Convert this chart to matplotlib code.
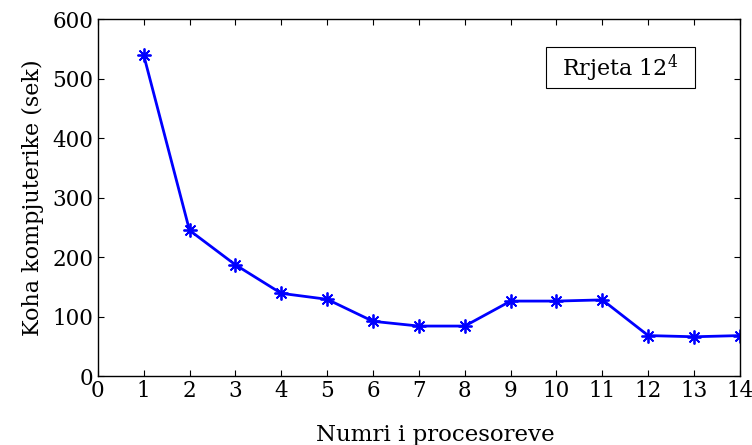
import matplotlib
matplotlib.use("Agg")
import matplotlib.pyplot as plt
from matplotlib.patches import Rectangle

# number of processors vs computing time (sec)
procs = [1, 2, 3, 4, 5, 6, 7, 8, 9, 10, 11, 12, 13, 14]
times = [540, 245, 187, 139, 129, 92, 84, 84, 126, 126, 128, 68, 66, 68]
xticks = list(range(0, 15))
yticks = [0, 100, 200, 300, 400, 500, 600]

plt.rcParams["font.family"] = ["DejaVu Serif"]
plt.rcParams["mathtext.fontset"] = "dejavuserif"

fig = plt.figure(figsize=(7.52, 4.45), dpi=100)
ax = fig.add_axes([0.130, 0.155, 0.854, 0.802])

ax.plot(procs, times, color="blue", linewidth=2, marker=(8, 2, 0),
        markersize=10, markeredgewidth=1.3)

ax.set_xlim(0, 14)
ax.set_ylim(0, 600)
ax.set_xticks(xticks)
ax.set_yticks(yticks)
ax.tick_params(direction="in", top=True, right=True, labelsize=15.5, length=4, pad=3)
for s in ax.spines.values():
    s.set_linewidth(1.0)

ax.set_xlabel("Numri i procesoreve", fontsize=16.5)
ax.xaxis.set_label_coords(0.525, -0.135)
ax.set_ylabel("Koha kompjuterike (sek)", fontsize=16, labelpad=6)

# legend-like text box
ax.add_patch(Rectangle((0.698, 0.807), 0.232, 0.115, transform=ax.transAxes,
                       facecolor="white", edgecolor="black", linewidth=0.8, zorder=3))
ax.text(0.814, 0.862, "Rrjeta 12$^4$", transform=ax.transAxes, fontsize=16,
        ha="center", va="center", zorder=4)

fig.savefig("out.png", dpi=100)
